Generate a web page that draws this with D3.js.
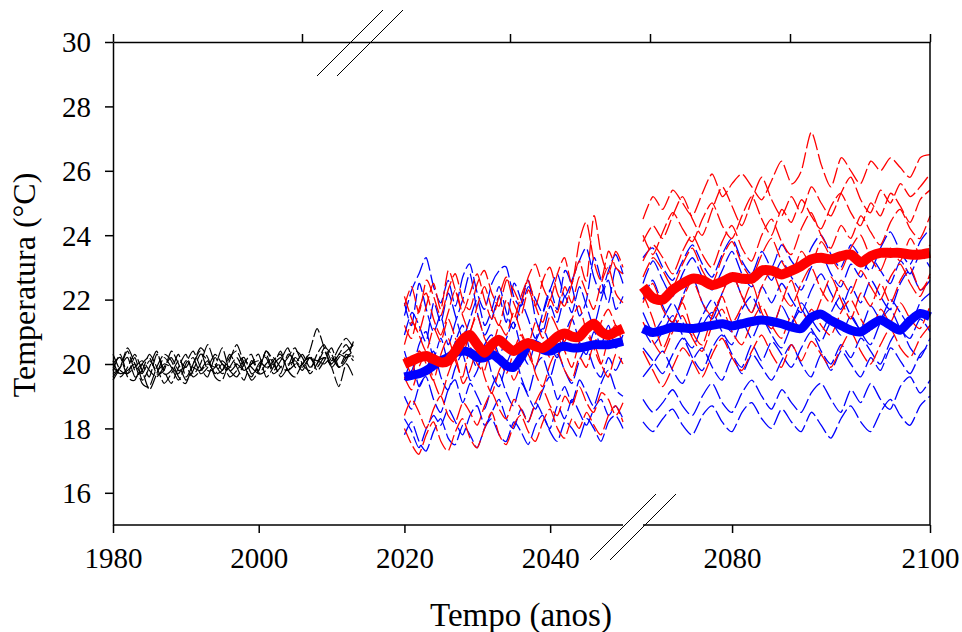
<!DOCTYPE html>
<html>
<head>
<meta charset="utf-8">
<script src="https://cdn.jsdelivr.net/npm/d3@7"></script>
<style>
  body { margin: 0; background: #fff; }
  svg { display: block; }
  text { font-family: "Liberation Serif", "Times New Roman", serif; fill: #000; }
</style>
</head>
<body>
<svg id="chart" width="962" height="632"></svg>
<script>
// tick labels
var yTicks = [16, 18, 20, 22, 24, 26, 28, 30];
var xTicks = [1980, 2000, 2020, 2040, 2080, 2100];
var topTicks = [1980, 2010, 2040, 2060, 2080, 2100];

// observed 1980-2013
var histStart = 1980;
var hist = [
  [19.8,20.3,19.7,20.2,19.5, 19.9,20.4,19.7,19.8,20.3, 19.6,20.0,20.4,19.8,19.9, 20.5,19.8,20.0,20.2,19.7, 19.9,20.3,19.8,20.1,20.5, 19.9,20.0,20.4,21.1,20.5, 20.0,20.3,20.6,20.2],
  [20.1,19.6,19.9,20.3,19.8, 19.2,19.7,20.2,19.9,19.5, 20.0,20.4,19.9,19.6,20.2, 19.8,20.3,19.9,19.5,20.1, 19.8,20.4,20.0,19.7,20.3, 20.1,19.8,20.2,20.0,20.4, 19.9,20.2,20.4,20.6],
  [19.7,19.9,20.4,19.8,20.0, 19.6,20.3,19.8,19.4,19.9, 20.3,19.7,20.0,20.6,20.0, 19.7,19.9,20.2,19.8,20.0, 20.3,19.6,19.9,20.4,19.8, 20.2,20.0,20.3,19.8,20.1, 20.5,19.9,20.2,20.4],
  [20.3,19.8,19.7,19.9,20.1, 19.8,19.6,19.9,20.2,19.8, 19.9,19.6,19.8,20.1,19.7, 20.0,19.6,19.8,20.1,19.9, 19.7,20.0,20.2,19.9,19.8, 20.0,20.3,19.9,20.1,20.0, 20.2,19.9,20.3,20.1],
  [19.6,19.9,20.2,19.6,19.8, 20.3,19.9,19.4,19.7,20.1, 19.9,20.2,19.7,19.9,20.3, 20.0,19.8,19.6,20.0,20.3, 19.7,19.8,20.1,20.3,19.8, 19.6,20.0,20.2,19.9,20.2, 19.9,19.3,20.0,19.6],
  [19.9,19.7,19.8,20.0,19.7, 20.1,19.8,20.0,19.9,19.7, 20.1,19.9,19.8,20.0,19.9, 20.1,19.9,20.0,19.8,20.0, 20.1,19.9,20.0,20.2,20.0, 20.1,19.9,20.2,20.1,20.2, 20.0,20.3,20.2,20.3],
  [20.0,20.2,19.6,19.5,20.0, 20.2,19.7,19.8,20.4,20.0, 19.5,19.8,20.3,20.1,19.7, 19.8,20.2,20.4,19.9,19.6, 20.0,20.2,19.7,19.9,20.2, 20.5,20.0,19.8,20.3,20.6, 20.1,20.5,20.8,20.5],
  [19.5,19.9,20.5,20.0,19.4, 19.3,19.9,20.3,20.1,19.6, 19.4,20.0,20.5,20.2,19.6, 19.5,20.1,20.6,20.0,19.5, 19.8,20.4,20.1,19.6,19.9, 20.4,20.2,19.7,20.0,20.5, 20.3,19.9,20.1,20.7]
];

// 2020-2050
var p1Start = 2020;
var p1Blue = [
  [21.5,22.3,22.8,23.3,22.4, 21.9,22.6,21.8,22.7,23.1, 22.2,21.7,22.5,22.9,23.0, 22.1,21.8,22.4,22.0,21.6, 22.3,22.8,22.1,22.6,23.2, 23.6,22.7,22.2,22.9,23.4, 22.8],
  [20.9,21.6,21.2,20.7,21.9, 21.3,22.2,21.5,20.8,21.4, 22.0,21.2,21.7,22.4,21.6, 21.1,21.9,22.6,21.4,21.0, 21.8,21.3,22.1,21.6,22.4, 21.8,21.2,22.0,22.6,21.7, 22.1],
  [20.4,19.8,20.6,21.0,20.2, 20.8,20.1,20.7,21.2,20.4, 19.9,20.6,20.9,20.3,20.8, 21.3,20.5,20.0,20.7,21.1, 20.6,20.2,20.9,21.4,20.7, 20.3,21.0,20.6,21.2,20.5, 20.9],
  [19.5,20.1,19.3,19.8,20.4, 19.6,19.2,19.9,20.3,19.5, 19.8,20.5,19.7,19.3,20.0, 20.4,19.6,19.1,19.9,20.2, 19.6,20.3,19.8,19.4,20.1, 20.5,19.9,19.6,20.2,19.8, 20.3],
  [19.0,18.6,19.3,19.6,18.9, 18.5,19.2,19.5,18.8,19.4, 19.0,18.6,19.3,19.7,19.1, 18.7,19.4,19.0,18.6,19.2, 19.6,18.9,19.3,18.8,19.5, 19.1,18.7,19.4,19.8,19.2, 19.0],
  [17.8,18.2,17.6,17.3,17.9, 18.3,17.7,17.5,18.1,17.8, 17.4,18.0,18.3,17.8,17.6, 18.2,17.9,17.5,18.1,18.4, 17.9,17.6,18.2,18.0,17.7, 18.3,18.0,17.6,18.2,18.4, 18.0],
  [18.3,17.9,17.4,18.0,18.4, 18.1,18.6,18.2,17.8,18.4, 18.7,18.1,18.5,18.9,18.3, 18.0,18.6,18.2,18.8,18.4, 18.0,18.7,18.3,18.9,18.5, 18.1,18.6,18.9,18.4,18.7, 18.3],
  [21.9,21.2,22.5,21.7,21.0, 21.5,20.6,21.3,22.0,22.8, 21.6,20.9,21.4,22.1,21.3, 22.5,22.0,21.4,20.8,21.6, 22.3,21.7,22.9,22.4,21.5, 22.0,23.3,22.6,21.9,23.0, 22.5]
];
var p1Red = [
  [21.8,22.4,21.6,22.6,22.1, 21.5,22.3,22.8,22.0,21.7, 22.5,22.9,22.2,21.8,22.6, 22.3,21.9,22.7,23.1,22.4, 22.0,22.8,23.3,22.5,23.8, 24.4,23.2,22.6,23.5,23.0, 22.8],
  [21.2,20.8,21.7,22.2,21.4, 20.9,21.6,22.3,21.5,21.0, 21.8,22.4,21.7,21.2,22.0, 21.4,22.1,22.6,21.8,21.3, 22.0,21.6,22.4,21.9,22.7, 22.2,21.7,22.5,23.0,22.2, 21.9],
  [20.6,21.3,20.9,20.4,21.1, 20.7,21.4,20.8,20.3,21.0, 21.5,20.8,20.5,21.2,20.9, 21.6,21.0,20.6,21.3,20.8, 21.5,21.1,20.7,21.4,21.8, 21.0,20.6,21.3,21.7,21.2, 20.9],
  [19.6,19.2,19.9,20.3,19.5, 19.0,19.7,20.2,19.4,19.8, 20.4,19.6,19.1,19.8,20.1, 19.5,20.0,20.5,19.7,19.3, 20.0,20.4,19.8,19.5,20.2, 19.9,20.6,20.0,19.6,20.3, 20.0],
  [18.0,17.5,17.2,17.8,18.2, 17.6,17.3,17.9,18.3,17.7, 17.4,18.0,18.5,17.8,17.5, 18.1,18.4,17.9,17.6,18.2, 18.6,18.0,17.7,18.3,18.0, 18.5,18.1,17.8,18.4,18.7, 18.2],
  [18.4,18.9,18.5,18.0,18.6, 19.0,18.4,18.2,18.8,18.5, 18.1,18.7,19.1,18.6,18.3, 18.9,18.6,18.2,18.8,19.2, 18.7,18.4,19.0,18.7,19.3, 18.8,18.5,19.1,18.9,18.4, 18.8],
  [22.1,21.4,21.0,21.8,22.5, 21.7,22.9,22.3,21.6,22.2, 22.8,22.0,21.4,22.1,22.7, 21.9,21.5,22.3,21.8,22.6, 23.0,22.2,21.8,22.5,23.2, 22.6,24.6,23.4,22.8,23.5, 23.0],
  [20.2,19.7,20.4,20.0,19.5, 20.3,20.8,20.1,19.6,20.5, 20.0,19.8,20.6,20.2,19.7, 20.4,20.9,20.3,19.9,20.6, 20.2,20.8,20.4,19.9,20.7, 21.1,20.5,20.0,20.8,21.2, 20.6]
];
var p1BlueMean = [19.6,19.65,19.7,19.8,19.95, 20.1,20.2,20.35,20.4,20.35, 20.2,20.2,20.3,20.15,19.95, 19.9,20.2,20.6,20.6,20.45, 20.4,20.5,20.55,20.5,20.5, 20.55,20.6,20.6,20.6,20.65, 20.7];
var p1RedMean = [20.0,20.1,20.2,20.25,20.15, 20.05,20.1,20.4,20.75,20.9, 20.6,20.35,20.6,20.75,20.55, 20.4,20.55,20.65,20.55,20.5, 20.65,20.85,20.95,20.85,20.85, 21.1,21.25,21.0,20.9,21.0, 21.1];

// 2071-2100
var p2Start = 2071;
var p2Blue = [
  [18.9,18.5,18.8,19.2,18.7, 18.4,19.0,19.4,18.8,18.5, 19.1,19.5,19.0,18.6,19.2, 18.8,18.5,19.1,19.4,18.9, 18.5,19.2,18.8,19.4,18.9, 18.6,19.3,19.6,19.1,19.5],
  [18.2,17.9,18.3,18.6,18.1, 17.8,18.4,18.7,18.2,17.9, 18.5,18.8,18.3,18.0,18.6, 18.2,17.9,18.5,18.1,17.7, 18.3,18.7,18.2,17.9,18.5, 18.9,18.4,18.1,18.7,19.0],
  [20.5,20.1,19.7,20.3,20.8, 20.2,19.8,20.5,20.9,20.3, 19.9,20.6,20.1,20.7,20.3, 19.9,20.5,21.0,20.4,20.0, 20.6,20.2,20.8,20.4,20.0, 20.7,21.1,20.5,20.2,20.8],
  [21.6,21.0,21.4,21.9,21.3, 20.9,21.5,22.0,21.4,21.0, 21.7,22.1,21.5,21.1,21.8, 21.3,21.9,21.4,21.0,21.6, 22.1,21.5,21.1,21.8,21.4, 22.0,21.6,21.2,21.9,22.2],
  [22.5,23.2,22.6,22.1,22.8, 23.3,22.7,22.3,22.9,23.5, 22.8,22.4,23.0,22.6,23.2, 22.7,22.3,23.0,23.4,22.8, 22.4,23.1,22.7,23.3,22.9, 22.5,23.2,22.8,23.4,23.0],
  [23.3,23.6,23.0,22.6,23.2, 23.7,23.1,22.7,23.4,23.9, 23.2,22.8,23.5,23.0,23.7, 23.2,22.9,23.6,24.0,23.4, 23.0,23.7,23.3,22.9,23.6, 24.1,23.5,23.1,23.8,24.2],
  [19.6,20.0,20.4,19.8,19.4, 20.1,20.5,19.9,19.5,20.2, 19.7,20.3,19.9,19.5,20.1, 20.6,20.0,19.6,20.3,19.8, 20.4,20.0,19.6,20.2,19.8, 20.5,20.1,19.7,20.3,20.6],
  [22.0,22.6,21.8,21.3,22.1, 22.7,21.9,21.4,22.2,22.8, 22.1,21.6,22.4,21.9,22.5, 22.0,21.6,22.3,22.8,22.2, 21.7,22.4,21.9,22.6,22.1, 21.7,22.5,22.9,22.3,22.6],
  [21.1,20.6,21.0,21.5,20.9, 20.5,21.2,21.6,21.0,20.6, 21.3,20.8,21.4,20.9,20.5, 21.2,21.7,21.1,20.7,21.3, 20.9,21.5,21.0,20.6,21.3, 21.7,21.1,20.8,21.4,21.0]
];
var p2Red = [
  [24.5,25.2,24.8,25.4,25.0, 24.6,25.3,25.9,25.2,25.6, 25.9,25.5,25.1,25.7,26.3, 25.6,26.0,27.2,26.2,25.5, 26.4,26.0,25.6,26.3,26.0, 26.4,26.1,25.8,26.4,26.5],
  [23.8,24.3,23.9,24.6,25.2, 24.5,24.0,24.8,25.5,24.9, 24.3,25.1,25.8,25.1,24.6, 25.2,24.7,25.5,25.0,24.6, 25.3,25.8,25.1,24.7,25.4, 25.0,25.6,25.2,25.5,25.9],
  [23.2,23.7,23.3,22.8,23.5, 24.0,23.4,23.0,23.8,24.3, 23.6,23.2,24.0,24.5,23.8, 23.4,24.2,24.7,24.0,23.6, 24.3,23.9,24.6,24.1,23.7, 24.4,24.8,24.2,23.9,24.6],
  [22.7,23.3,22.9,22.4,23.1, 23.6,22.9,22.5,23.3,23.8, 23.1,22.7,23.4,23.9,23.2, 22.8,23.5,23.1,23.8,23.3, 22.9,23.6,24.0,23.3,22.9, 23.6,23.2,23.9,23.4,23.7],
  [21.9,22.5,21.7,21.3,22.0, 22.6,21.9,21.5,22.2,22.8, 22.1,21.6,22.4,22.9,22.2, 21.8,22.5,23.0,22.3,21.9, 22.6,22.2,22.9,22.4,22.0, 22.7,23.1,22.5,22.1,22.8],
  [21.3,20.7,20.3,21.0,21.5, 20.8,20.4,21.2,21.7,21.0, 20.6,21.3,21.8,21.2,20.8, 21.5,21.0,21.7,21.2,20.9, 21.6,22.0,21.4,21.0,21.7, 21.3,21.9,21.4,21.1,21.8],
  [20.4,19.8,19.3,19.9,20.5, 20.1,19.6,20.3,20.8,20.2, 19.8,20.4,20.9,20.3,19.9, 20.6,20.1,20.7,20.3,19.9, 20.5,21.0,20.4,20.0,20.6, 21.1,20.5,20.2,20.8,21.2],
  [22.2,21.4,20.5,21.2,21.9, 21.0,20.6,21.5,22.1,21.3, 21.8,22.5,21.6,21.1,21.9, 22.6,21.7,21.3,22.0,22.7, 22.0,21.4,22.2,21.8,22.5, 21.9,22.6,23.0,22.3,22.7],
  [24.0,23.4,24.1,24.7,24.2, 23.8,24.5,25.0,24.3,23.9, 24.6,25.2,24.5,24.0,24.8, 24.4,25.1,24.6,24.2,24.9, 25.3,24.7,24.3,25.0,24.6, 25.3,24.9,24.4,25.1,25.4]
];
var p2BlueMean = [21.1,20.98,21.05,21.15,21.12, 21.1,21.15,21.2,21.25,21.18, 21.25,21.32,21.37,21.32,21.25, 21.15,21.1,21.45,21.55,21.35, 21.2,21.05,21.0,21.2,21.37, 21.2,21.05,21.35,21.57,21.47];
var p2RedMean = [22.4,22.05,22.0,22.3,22.5, 22.65,22.6,22.45,22.55,22.7, 22.65,22.65,22.9,22.9,22.78, 22.9,23.05,23.25,23.3,23.25, 23.35,23.4,23.15,23.35,23.45, 23.45,23.45,23.4,23.4,23.45];

var svg = d3.select("#chart");

var plotLeft = 113, plotRight = 930, plotTop = 42, plotBottom = 525;

// broken time axis: 1980-2050 and 2071-2100
var x = d3.scaleLinear()
  .domain([1980, 2050, 2071, 2100])
  .range([plotLeft, 623, 643, plotRight]);

var xTop = d3.scaleLinear()
  .domain([1980, 2010, 2040, 2100])
  .range([plotLeft, 302, 510, plotRight]);

var y = d3.scaleLinear()
  .domain([15, 30])
  .range([plotBottom, plotTop]);

var line = d3.line()
  .x(function(d) { return x(d.year); })
  .y(function(d) { return y(d.value); })
  .curve(d3.curveCardinal.tension(0.3));

function toPoints(values, start) {
  return values.map(function(v, i) { return {year: start + i, value: v}; });
}

function drawSeries(list, start, color, width, dash) {
  list.forEach(function(values) {
    svg.append("path")
      .attr("d", line(toPoints(values, start)))
      .attr("fill", "none")
      .attr("stroke", color)
      .attr("stroke-width", width)
      .attr("stroke-dasharray", dash)
      .attr("stroke-linejoin", "round");
  });
}

drawSeries(hist, histStart, "#000", 1.2, "14,3");
drawSeries(p1Blue, p1Start, "#0000ff", 1.3, "16,4");
drawSeries(p1Red, p1Start, "#ff0000", 1.3, "16,4");
drawSeries(p2Blue, p2Start, "#0000ff", 1.3, "16,4");
drawSeries(p2Red, p2Start, "#ff0000", 1.3, "16,4");

drawSeries([p1BlueMean], p1Start, "#0000ff", 9, null);
drawSeries([p2BlueMean], p2Start, "#0000ff", 9, null);
drawSeries([p1RedMean], p1Start, "#ff0000", 10, null);
drawSeries([p2RedMean], p2Start, "#ff0000", 10, null);

// axes
var gy = svg.append("g")
  .attr("transform", "translate(" + plotLeft + ",0)")
  .call(d3.axisLeft(y).tickValues(yTicks).tickSize(8).tickSizeOuter(0).tickPadding(14));

var gx = svg.append("g")
  .attr("transform", "translate(0," + plotBottom + ")")
  .call(d3.axisBottom(x).tickValues(xTicks).tickFormat(d3.format("d")).tickSize(8).tickSizeOuter(0).tickPadding(14));

var gt = svg.append("g")
  .attr("transform", "translate(0," + plotTop + ")")
  .call(d3.axisTop(xTop).tickValues(topTicks).tickFormat("").tickSize(8).tickSizeOuter(0));

[gy, gx, gt].forEach(function(g) {
  g.selectAll("line").attr("stroke", "#000").attr("stroke-width", 1.5);
  g.select(".domain").attr("stroke", "#000").attr("stroke-width", 1.5);
  g.selectAll("text")
    .style("font-family", "'Liberation Serif', 'Times New Roman', serif")
    .style("font-size", "29px")
    .attr("fill", "#000");
});
gy.selectAll("text").attr("dy", "0.34em");
gx.selectAll("text").attr("dy", "0.72em");

// bottom axis line is cut at the break
gx.select(".domain").remove();
gx.append("line").attr("x1", plotLeft).attr("x2", x(2050)).attr("stroke", "#000").attr("stroke-width", 1.5);
gx.append("line").attr("x1", x(2071)).attr("x2", plotRight).attr("stroke", "#000").attr("stroke-width", 1.5);

// right frame
svg.append("line")
  .attr("x1", plotRight).attr("x2", plotRight)
  .attr("y1", plotTop).attr("y2", plotBottom)
  .attr("stroke", "#000").attr("stroke-width", 1.5);

// break marks
function breakMark(cx, cy) {
  [-10, 10].forEach(function(off) {
    svg.append("line")
      .attr("x1", cx + off - 33).attr("y1", cy + 33)
      .attr("x2", cx + off + 33).attr("y2", cy - 33)
      .attr("stroke", "#000").attr("stroke-width", 1);
  });
}
breakMark(360, 43);
breakMark(633, 527);

// titles
svg.append("text")
  .attr("x", 521).attr("y", 626)
  .attr("text-anchor", "middle")
  .style("font-size", "33px")
  .text("Tempo (anos)");

svg.append("text")
  .attr("transform", "translate(35,285) rotate(-90)")
  .attr("text-anchor", "middle")
  .style("font-size", "32px")
  .text("Temperatura (°C)");
</script>
</body>
</html>
